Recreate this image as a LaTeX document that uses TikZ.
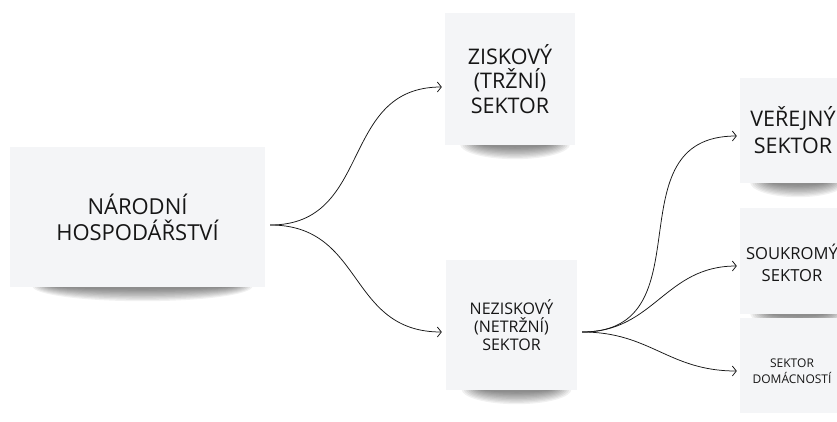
\documentclass[tikz,border=0pt]{standalone}
\usepackage{fontspec}
\setmainfont{Open Sans}
\usetikzlibrary{arrows.meta}
\definecolor{paper}{HTML}{F4F5F7}
\definecolor{ink}{HTML}{161616}
\pgfdeclarelayer{background}
\pgfdeclarelayer{paperbase}
\pgfsetlayers{paperbase,background,main}
\tikzset{
  card/.style={fill=paper, draw=none, inner sep=0pt, align=center, text=ink},
  caption/.style={inner sep=0pt, align=center, text=ink},
  link/.style={draw=ink, line width=0.75pt, -{Straight Barb[length=4pt,width=10pt]}},
}
% soft "lifted paper" shadow under a card: #1 node name, #2 half width of the shadow
\newcommand\cardshadow[2]{%
  \begin{pgfonlayer}{background}
    \foreach \k in {0,...,9}{
      \fill[black, opacity=0.055]
        ([xshift=5pt, yshift=1pt]#1.south) ellipse [x radius={#2-2.2*\k*1pt}, y radius={15pt-1.3*\k*1pt}];
    }
  \end{pgfonlayer}}
\begin{document}
\begin{tikzpicture}[x=1pt, y=-1pt]
  \useasboundingbox (0,0) rectangle (837,421);
  \clip (0,0) rectangle (837,421);
  \begin{pgfonlayer}{paperbase}
    \fill[white] (0,0) rectangle (837,421);
  \end{pgfonlayer}

  % cards
  \node[card, minimum width=255pt, minimum height=140pt, font=\fontsize{22}{26}\selectfont]
    (nar) at (137.5,217) {NÁRODNÍ\\HOSPODÁŘSTVÍ};
  \node[card, minimum width=130pt, minimum height=132pt, font=\fontsize{21.5}{24.5}\selectfont]
    (zis) at (510,79) {ZISKOVÝ\\(TRŽNÍ)\\SEKTOR};
  \node[card, minimum width=131pt, minimum height=130pt, font=\fontsize{16}{18}\selectfont]
    (nez) at (511.5,325) {NEZISKOVÝ\\(NETRŽNÍ)\\SEKTOR};
  \node[card, minimum width=106pt, minimum height=105pt, font=\fontsize{21.5}{27}\selectfont]
    (ver) at (793,130.5) {VEŘEJNÝ\\SEKTOR};
  \node[card, minimum width=106pt, minimum height=106pt] (sou) at (793,261) {};
  \node[caption, font=\fontsize{16.6}{22}\selectfont] (sou-text) at (792,263) {SOUKROMÝ\\SEKTOR};
  \node[card, minimum width=106pt, minimum height=95pt] (dom) at (793,365.5) {};
  \node[caption, font=\fontsize{12}{16}\selectfont] (dom-text) at (792,371) {SEKTOR\\DOMÁCNOSTÍ};

  \cardshadow{nar}{110pt}
  \cardshadow{zis}{55pt}
  \cardshadow{nez}{55pt}
  \cardshadow{ver}{48pt}
  \cardshadow{sou}{48pt}

  % connector end points
  \coordinate (nar-out) at ([xshift=5pt, yshift=-8pt]nar.east);
  \coordinate (zis-in)  at ([xshift=-3pt, yshift=-8pt]zis.west);
  \coordinate (nez-in)  at ([xshift=-4pt, yshift=-7pt]nez.west);
  \coordinate (nez-out) at ([xshift=5pt, yshift=-7pt]nez.east);
  \coordinate (ver-in)  at ([xshift=-3pt, yshift=-5.5pt]ver.west);
  \coordinate (sou-in)  at ([xshift=-3pt, yshift=-5pt]sou.west);
  \coordinate (dom-in)  at ([xshift=-3pt, yshift=-5.5pt]dom.west);

  % connectors
  \draw[link] (nar-out) to[out=0, in=180, looseness=1.2] (zis-in);
  \draw[link] (nar-out) to[out=0, in=180, looseness=1.2] (nez-in);
  \draw[link] (nez-out) to[out=0, in=180, looseness=1.3] (ver-in);
  \draw[link] (nez-out) to[out=0, in=180, looseness=1.1] (sou-in);
  \draw[link] (nez-out) to[out=0, in=180, looseness=1.1] (dom-in);
\end{tikzpicture}
\end{document}
